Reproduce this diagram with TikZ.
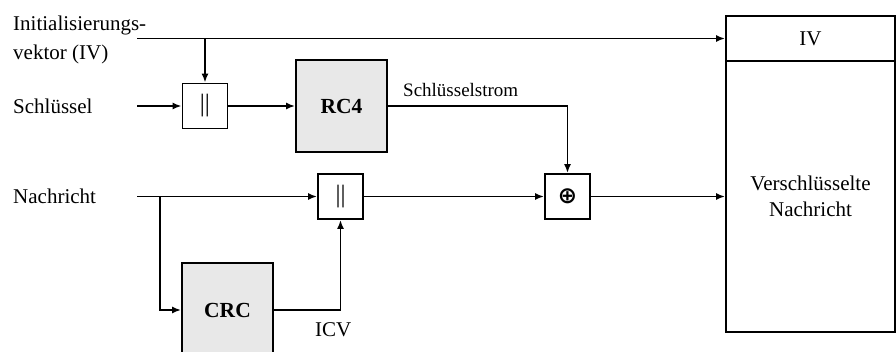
\documentclass[tikz,border=0pt]{standalone}
\usepackage{fontspec}
\setmainfont{Liberation Serif}
\newfontfamily\symfont{DejaVu Sans}
\usetikzlibrary{arrows.meta}
\begin{document}
\begin{tikzpicture}[x=1pt,y=-1pt,
  every node/.style={font=\fontsize{21}{26}\selectfont},
  ln/.style={line width=1.8pt},
  arr/.style={ln,-{Latex[length=9pt,width=7pt]}},
  blk/.style={draw,ln,rectangle,inner sep=0pt,minimum width=#1,minimum height=#1,font=\fontsize{25}{28}\selectfont},
  grayblk/.style={draw,ln,rectangle,inner sep=0pt,fill=black!9,font=\fontsize{21.5}{24}\selectfont\bfseries},
  lbl/.style={anchor=west,inner sep=0pt}]
\useasboundingbox (0,0) rectangle (896,352);
% right output box
\node[draw,ln,minimum width=169pt,minimum height=45pt,inner sep=0pt] (ivbox) at (810.5,38.5) {IV};
\node[draw,ln,minimum width=169pt,minimum height=271pt,inner sep=0pt,align=center] (msg) at (810.5,196.5) {Verschlüsselte\\Nachricht};
% blocks
\node[blk=45pt] (c1) at (205,106) {||};
\node[grayblk,minimum width=91pt,minimum height=92pt] (rc4) at (341.5,106) {RC4};
\node[blk=45pt] (c2) at (340.5,196.5) {||};
\node[blk=45pt,font=\symfont\bfseries\fontsize{23}{26}\selectfont] (xor) at (567.5,196.5) {⊕};
\node[grayblk,minimum width=91pt,minimum height=94pt] (crc) at (227.5,310) {CRC};
% labels
\node[lbl,align=left,font=\fontsize{21}{29}\selectfont] (ivl) at (13,40) {Initialisierungs-\\vektor (IV)};
\node[lbl] (keyl) at (13,106) {Schlüssel};
\node[lbl] (nachl) at (13,196) {Nachricht};
\node[lbl,font=\fontsize{19}{22}\selectfont] (ksl) at (403,90) {Schlüsselstrom};
\node[lbl] (icvl) at (315,330) {ICV};
% connectors
\coordinate (ivs) at (137,38.5);
\coordinate (ks) at (137,106);
\coordinate (ns) at (137,196.5);
\coordinate (br) at (160,196.5);
\draw[arr] (ivs) -- (ivbox.west);
\draw[arr] (c1.north |- ivs) -- (c1.north);
\draw[arr] (ks) -- (c1.west);
\draw[arr] (c1.east) -- (rc4.west);
\draw[arr] (rc4.east) -| (xor.north);
\draw[arr] (ns) -- (c2.west);
\draw[arr] (br) |- (crc.west);
\draw[arr] (crc.east) -| (c2.south);
\draw[arr] (c2.east) -- (xor.west);
\draw[arr] (xor.east) -- (msg.west |- xor.east);
\end{tikzpicture}
\end{document}
